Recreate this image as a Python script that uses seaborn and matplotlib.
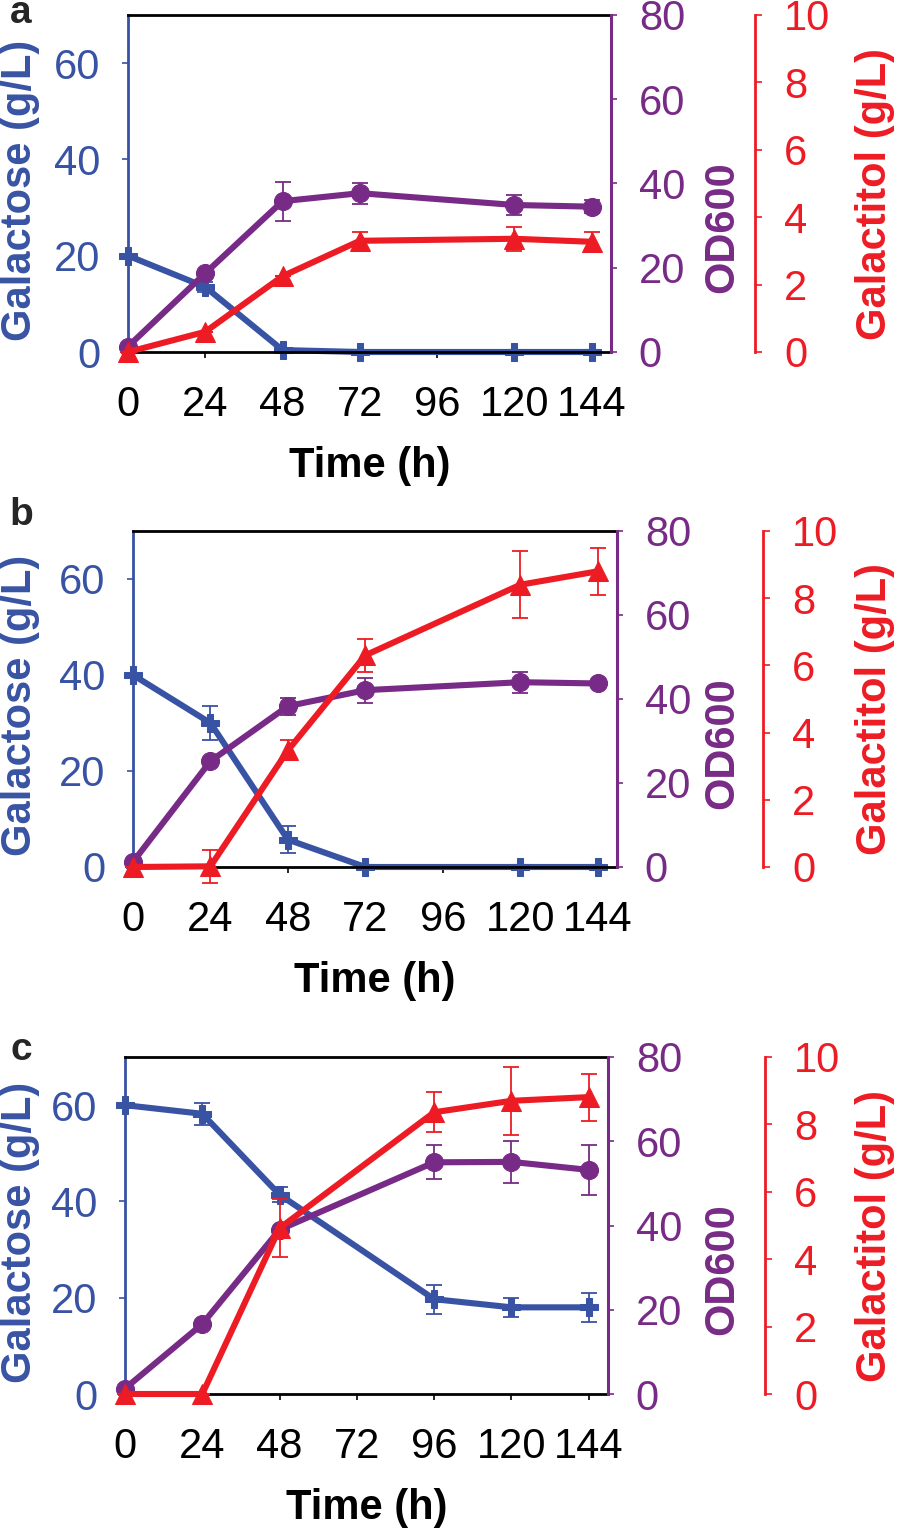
import numpy as np
import pandas as pd
import seaborn as sns
import matplotlib.pyplot as plt

# time points per panel (h)
time_a = [0, 24, 48, 72, 120, 144]
time_b = [0, 24, 48, 72, 120, 144]
time_c = [0, 24, 48, 96, 120, 144]

# galactose (g/L)
gal_a = [20.0, 13.5, 0.4, 0.0, 0.0, 0.0]
gal_a_err = [0, 1.0, 0.3, 0, 0, 0]
gal_b = [40.0, 30.0, 5.7, 0.0, 0.0, 0.0]
gal_b_err = [0, 3.5, 2.8, 0, 0, 0]
gal_c = [60.0, 58.2, 41.4, 19.7, 18.0, 18.0]
gal_c_err = [0, 2.3, 1.5, 3.0, 2.0, 3.0]

# OD600
od_a = [1.3, 18.7, 35.8, 37.7, 34.9, 34.5]
od_a_err = [0, 0, 4.6, 2.5, 2.4, 1.6]
od_b = [1.2, 25.2, 38.3, 42.1, 44.0, 43.7]
od_b_err = [0, 0, 2.0, 3.0, 2.5, 0]
od_c = [1.3, 16.6, 39.0, 55.0, 55.1, 53.2]
od_c_err = [0, 0, 0, 4.0, 5.0, 6.0]

# galactitol (g/L)
gol_a = [0.0, 0.6, 2.25, 3.3, 3.36, 3.27]
gol_a_err = [0, 0, 0, 0.27, 0.35, 0.3]
gol_b = [0.0, 0.02, 3.47, 6.3, 8.4, 8.8]
gol_b_err = [0, 0.5, 0.3, 0.5, 1.0, 0.7]
gol_c = [0.0, 0.0, 4.92, 8.36, 8.7, 8.81]
gol_c_err = [0, 0, 0.86, 0.6, 1.0, 0.7]

x_ticks = [0, 24, 48, 72, 96, 120, 144]
panel_letters = ["a", "b", "c"]

BLUE = "#3953A4"
PURPLE = "#782B86"
RED = "#ED1C24"

sns.set_style("ticks")
plt.rcParams['font.family'] = ['Liberation Sans', 'DejaVu Sans']

fig = plt.figure(figsize=(8.98, 15.28), dpi=100)
W, H = 898, 1528

# panel boxes in pixels: left, right, top, bottom, red offset, letter baseline
boxes = [(128, 611, 15, 352, 144, 23), (133, 617, 531, 867, 146, 525),
         (125, 608, 1057, 1394, 157, 1060)]
panels = [
    (time_a, gal_a, gal_a_err, od_a, od_a_err, gol_a, gol_a_err),
    (time_b, gal_b, gal_b_err, od_b, od_b_err, gol_b, gol_b_err),
    (time_c, gal_c, gal_c_err, od_c, od_c_err, gol_c, gol_c_err),
]

TICK = 30
LAB = 30

for i, (box, data) in enumerate(zip(boxes, panels)):
    l, r, t, b, off, base = box
    t_h, gal, gal_e, od, od_e, gol, gol_e = data
    df = pd.DataFrame({"time": t_h, "gal": gal, "od": od, "gol": gol})

    ax = fig.add_axes([l / W, 1 - b / H, (r - l) / W, (b - t) / H])
    ax2 = ax.twinx()
    ax3 = ax.twinx()

    # galactose
    ax.errorbar(t_h, gal, yerr=gal_e, fmt="none", ecolor=BLUE, elinewidth=1.3,
                capsize=6, capthick=1.3, clip_on=False)
    sns.lineplot(data=df, x="time", y="gal", ax=ax, color=BLUE, linewidth=4.4,
                 marker="P", markersize=13, markeredgecolor=BLUE, legend=False)
    # OD600
    ax2.errorbar(t_h, od, yerr=od_e, fmt="none", ecolor=PURPLE, elinewidth=1.3,
                 capsize=6, capthick=1.3, clip_on=False)
    sns.lineplot(data=df, x="time", y="od", ax=ax2, color=PURPLE, linewidth=4.4,
                 marker="o", markersize=13, markeredgecolor=PURPLE, legend=False)
    # galactitol
    ax3.errorbar(t_h, gol, yerr=gol_e, fmt="none", ecolor=RED, elinewidth=1.3,
                 capsize=6, capthick=1.3, clip_on=False)
    sns.lineplot(data=df, x="time", y="gol", ax=ax3, color=RED, linewidth=4.4,
                 marker="^", markersize=14, markeredgecolor=RED, legend=False)

    for a in (ax, ax2, ax3):
        for ln in a.lines:
            ln.set_clip_on(False)

    ax.set_xlim(0, 150)
    ax.set_ylim(0, 70)
    ax2.set_ylim(0, 80)
    ax3.set_ylim(0, 10)
    ax.set_xticks(x_ticks)
    ax.set_yticks([0, 20, 40, 60])
    ax2.set_yticks([0, 20, 40, 60, 80])
    ax3.set_yticks([0, 2, 4, 6, 8, 10])

    # spines
    ax.spines["left"].set_color(BLUE)
    ax.spines["left"].set_linewidth(2)
    ax.spines["right"].set_visible(False)
    ax.spines["top"].set_visible(True)
    ax.spines["top"].set_color("black")
    ax.spines["top"].set_linewidth(2)
    ax.spines["bottom"].set_color("black")
    ax.spines["bottom"].set_linewidth(2)
    for s in ("left", "top", "bottom"):
        ax2.spines[s].set_visible(False)
        ax3.spines[s].set_visible(False)
    ax2.spines["right"].set_color(PURPLE)
    ax2.spines["right"].set_linewidth(2.2)
    ax3.spines["right"].set_position(("outward", off * 72 / 100))
    ax3.spines["right"].set_color(RED)
    ax3.spines["right"].set_linewidth(2)

    ax.tick_params(axis="x", direction="out", length=4, width=1.2, colors="black",
                   labelsize=TICK, pad=20)
    ax.tick_params(axis="y", direction="out", length=4, width=1.2, colors=BLUE,
                   labelsize=TICK, pad=16)
    ax2.tick_params(axis="y", direction="out", length=4, width=1.2, colors=PURPLE,
                    labelsize=TICK, pad=16)
    ax3.tick_params(axis="y", direction="out", length=5, width=1.2, colors=RED,
                    labelsize=TICK, pad=16)

    ax.set_xlabel("Time (h)", fontsize=LAB, fontweight="bold", color="black")
    ax.xaxis.set_label_coords(0.5, -0.28)
    ax.set_ylabel("Galactose (g/L)", fontsize=LAB, fontweight="bold", color=BLUE)
    ax.yaxis.set_label_coords((40 - l) / (r - l), 0.48)
    ax2.set_ylabel("OD600", fontsize=LAB, fontweight="bold", color=PURPLE,
                   rotation=90)
    ax2.yaxis.set_label_coords((702 - l) / (r - l), 0.37)
    ax3.set_ylabel("Galactitol (g/L)", fontsize=LAB, fontweight="bold", color=RED,
                   rotation=90)
    ax3.yaxis.set_label_coords((855 - l) / (r - l), 0.47)

    fig.text(21 / W, 1 - base / H, panel_letters[i], fontsize=28,
             fontweight="bold", ha="center", va="baseline")

fig.savefig("out.png", dpi=100)
